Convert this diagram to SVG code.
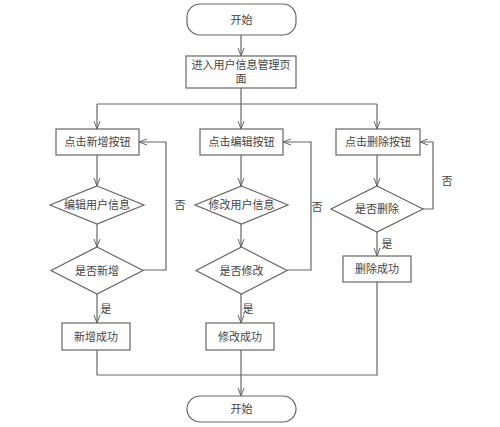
<svg xmlns="http://www.w3.org/2000/svg" width="500" height="427" viewBox="0 0 500 427">
<defs>
<marker id="arr" viewBox="0 0 8 8" refX="8" refY="4" markerWidth="8" markerHeight="8" markerUnits="userSpaceOnUse" orient="auto">
<path d="M0,1 L8,4 L0,7" fill="none" stroke="#666" stroke-width="1"/>
</marker>
</defs>
<style>
.s{fill:#fff;stroke:#666;stroke-width:1.2}
.c{fill:none;stroke:#666;stroke-width:1.2}
.t{font-family:"Liberation Serif","Noto Sans CJK SC",serif;font-size:11px;fill:#444;text-anchor:middle;dominant-baseline:central}
</style>
<rect width="500" height="427" fill="#fff"/>
<g id="connectors">
<path class="c" d="M241,35 V56" marker-end="url(#arr)"/>
<path class="c" d="M241,88 V104"/>
<path class="c" d="M97,104 H377"/>
<path class="c" d="M97,104 V129" marker-end="url(#arr)"/>
<path class="c" d="M241,104 V129" marker-end="url(#arr)"/>
<path class="c" d="M377,104 V129" marker-end="url(#arr)"/>
<path class="c" d="M97,155 V186" marker-end="url(#arr)"/>
<path class="c" d="M97,224 V247" marker-end="url(#arr)"/>
<path class="c" d="M143,270 H166 V142 H139" marker-end="url(#arr)"/>
<path class="c" d="M97,294 V323" marker-end="url(#arr)"/>
<path class="c" d="M241,155 V186" marker-end="url(#arr)"/>
<path class="c" d="M241,224 V247" marker-end="url(#arr)"/>
<path class="c" d="M287,270 H311 V142 H283" marker-end="url(#arr)"/>
<path class="c" d="M241,294 V323" marker-end="url(#arr)"/>
<path class="c" d="M377,155 V186" marker-end="url(#arr)"/>
<path class="c" d="M423,209 H433 V142 H420" marker-end="url(#arr)"/>
<path class="c" d="M377,232 V256" marker-end="url(#arr)"/>
<path class="c" d="M97,350 V375 H377 V282"/>
<path class="c" d="M241,350 V396" marker-end="url(#arr)"/>
<text class="t" x="180" y="205">否</text>
<text class="t" x="317" y="207">否</text>
<text class="t" x="447" y="181">否</text>
<text class="t" x="106" y="309">是</text>
<text class="t" x="248" y="309">是</text>
<text class="t" x="387" y="244">是</text>
</g>
<g id="start"><rect class="s" x="187" y="4" width="109" height="31" rx="13"/><text class="t" x="241.5" y="19.5">开始</text></g>
<g id="enter"><rect class="s" x="186" y="56" width="110" height="32"/><text class="t" x="241" y="65">进入用户信息管理页</text><text class="t" x="241" y="79">面</text></g>
<g id="btnAdd"><rect class="s" x="56" y="129" width="83" height="26"/><text class="t" x="97.5" y="142">点击新增按钮</text></g>
<g id="btnEdit"><rect class="s" x="200" y="129" width="83" height="26"/><text class="t" x="241.5" y="142">点击编辑按钮</text></g>
<g id="btnDel"><rect class="s" x="336" y="129" width="84" height="26"/><text class="t" x="378" y="142">点击删除按钮</text></g>
<g id="editInfo"><polygon class="s" points="97,186 144,205 97,224 50,205"/><text class="t" x="97" y="205">编辑用户信息</text></g>
<g id="isAdd"><polygon class="s" points="97,247 143,270.5 97,294 51,270.5"/><text class="t" x="97" y="271">是否新增</text></g>
<g id="modInfo"><polygon class="s" points="241.5,186 288,205 241.5,224 195,205"/><text class="t" x="241.5" y="205">修改用户信息</text></g>
<g id="isMod"><polygon class="s" points="241.5,247 287,270.5 241.5,294 196,270.5"/><text class="t" x="241.5" y="271">是否修改</text></g>
<g id="isDel"><polygon class="s" points="377,186 423,209 377,232 331,209"/><text class="t" x="377" y="209">是否删除</text></g>
<g id="addOk"><rect class="s" x="62" y="323" width="68" height="27"/><text class="t" x="96" y="336.5">新增成功</text></g>
<g id="modOk"><rect class="s" x="206" y="323" width="68" height="27"/><text class="t" x="240" y="336.5">修改成功</text></g>
<g id="delOk"><rect class="s" x="343" y="256" width="68" height="26"/><text class="t" x="377" y="269">删除成功</text></g>
<g id="end"><rect class="s" x="187" y="396" width="109" height="26" rx="13"/><text class="t" x="241.5" y="409">开始</text></g>
</svg>
